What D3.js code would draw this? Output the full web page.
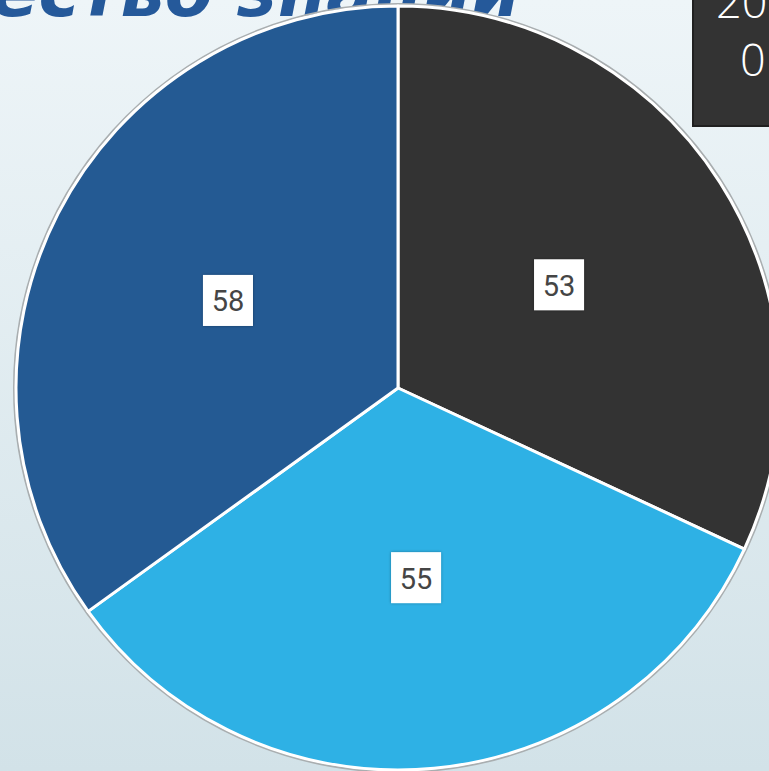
<!DOCTYPE html>
<html>
<head>
<meta charset="utf-8">
<script src="https://cdn.jsdelivr.net/npm/d3@7"></script>
<style>
  html, body { margin: 0; padding: 0; overflow: hidden; }
  body { width: 769px; height: 771px; }
</style>
</head>
<body>
<svg id="chart" width="769" height="771"></svg>
<script>
const categories = ["A", "B", "C"];
const values = [53, 55, 58];
const colors = ["#333333", "#2EB1E5", "#245A93"];
const titleText = "Качество знаний";
const boxLines = ["20", "0"];

const W = 769, H = 771;
const svg = d3.select("#chart");

const defs = svg.append("defs");
const grad = defs.append("linearGradient").attr("id", "bg").attr("x1", 0).attr("y1", 0).attr("x2", 0).attr("y2", 1);
grad.append("stop").attr("offset", "0%").attr("stop-color", "#EEF5F8");
grad.append("stop").attr("offset", "100%").attr("stop-color", "#D2E2E8");
const sh = defs.append("filter").attr("id", "sh").attr("x", "-20%").attr("y", "-20%").attr("width", "140%").attr("height", "140%");
sh.append("feDropShadow").attr("dx", 0).attr("dy", 0).attr("stdDeviation", 1.5).attr("flood-color", "#000").attr("flood-opacity", 0.35);

svg.append("rect").attr("width", W).attr("height", H).attr("fill", "url(#bg)");

// Title (cut off at top)
svg.append("text")
  .attr("x", 520).attr("y", 16)
  .attr("text-anchor", "end")
  .attr("font-family", "'DejaVu Sans', sans-serif")
  .attr("font-weight", "bold")
  .attr("font-style", "oblique")
  .attr("font-size", 70)
  .attr("fill", "#25599A")
  .text(titleText);

// Top-right box
svg.append("rect")
  .attr("x", 693).attr("y", -10).attr("width", 100).attr("height", 136)
  .attr("fill", "#333333").attr("stroke", "#202020").attr("stroke-width", 2);
svg.append("text").attr("x", 716).attr("y", 18)
  .attr("font-family", "'Open Sans', sans-serif").attr("font-weight", 300)
  .attr("font-size", 45).attr("fill", "#ffffff").text(boxLines[0]);
svg.append("text").attr("x", 740).attr("y", 76)
  .attr("font-family", "'Open Sans', sans-serif").attr("font-weight", 300)
  .attr("font-size", 45).attr("fill", "#ffffff").text(boxLines[1]);

const cx = 398, cy = 388, R = 382;
const g = svg.append("g").attr("transform", `translate(${cx},${cy})`);

g.append("circle").attr("r", R + 2).attr("fill", "none").attr("stroke", "#a9aeb0").attr("stroke-width", 2);

const pie = d3.pie().sort(null).value(d => d.v);
const data = pie(values.map((v, i) => ({ v, c: colors[i], k: categories[i] })));
const arc = d3.arc().innerRadius(0).outerRadius(R);

g.selectAll("path.slice").data(data).join("path")
  .attr("class", "slice")
  .attr("d", arc)
  .attr("fill", d => d.data.c)
  .attr("stroke", "#ffffff")
  .attr("stroke-width", 3)
  .attr("stroke-linejoin", "round");

const labels = g.selectAll("g.lab").data(data).join("g")
  .attr("class", "lab")
  .attr("transform", d => { const [x, y] = arc.centroid(d); return `translate(${x},${y})`; });
labels.append("rect")
  .attr("x", -25).attr("y", -26).attr("width", 50).attr("height", 51)
  .attr("fill", "#ffffff").attr("filter", "url(#sh)");
labels.append("text")
  .attr("text-anchor", "middle").attr("dy", "0.36em")
  .attr("font-family", "Roboto, sans-serif")
  .attr("font-weight", 400)
  .attr("font-size", 29)
  .attr("fill", "#454545")
  .text(d => d.data.v);
</script>
</body>
</html>
